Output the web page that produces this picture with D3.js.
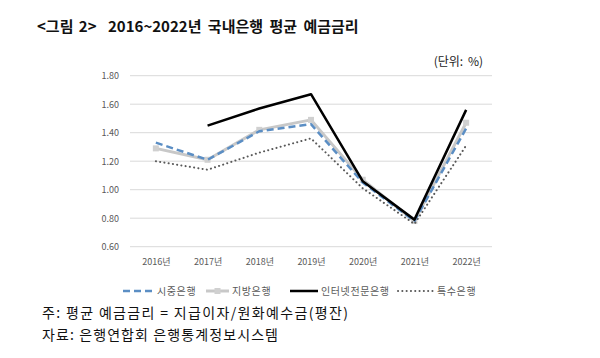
<!DOCTYPE html>
<html><head><meta charset="utf-8">
<script src="https://cdn.jsdelivr.net/npm/d3@7"></script>
<style>body{margin:0;background:#fff}svg{display:block}</style>
</head><body>
<svg id="c" width="600" height="358"></svg>
<script>
const years = ["2016년","2017년","2018년","2019년","2020년","2021년","2022년"];
const yTicks = [0.6,0.8,1.0,1.2,1.4,1.6,1.8];
const sijung = [1.33,1.21,1.41,1.46,1.05,0.78,1.43];
const jibang = [1.29,1.21,1.42,1.49,1.07,0.78,1.47];
const internet = [null,1.45,1.57,1.67,1.06,0.79,1.56];
const teuksu = [1.20,1.14,1.26,1.36,1.01,0.76,1.31];
const seriesNames = ["시중은행","지방은행","인터넷전문은행","특수은행"];

const svg = d3.select("#c");
const x = d3.scalePoint().domain(years).range([130,492]).padding(0.5);
const y = d3.scaleLinear().domain([0.6,1.8]).range([246.7,75.7]);
const font = "'Noto Sans CJK KR','Noto Sans',sans-serif";

const t = svg.append("text").attr("y",32).attr("font-family",font).attr("font-weight","bold")
  .attr("font-size",15).attr("fill","#111");
t.append("tspan").attr("x",37).attr("word-spacing",2).text("<그림 2>");
t.append("tspan").attr("x",108).attr("word-spacing",3).text("2016~2022년 국내은행 평균 예금금리");
svg.append("text").attr("x",483).attr("y",66).attr("text-anchor","end").attr("font-family",font)
  .attr("font-size",12).attr("fill","#222").attr("word-spacing",2).text("(단위: %)");

// grid
svg.append("g").selectAll("line").data(yTicks).join("line")
  .attr("x1",130).attr("x2",492).attr("y1",d=>y(d)).attr("y2",d=>y(d))
  .attr("stroke","#d9d9d9").attr("stroke-width",1);

const ya = d3.axisLeft(y).tickValues(yTicks).tickFormat(d3.format(".2f")).tickSize(0).tickPadding(11);
const gy = svg.append("g").attr("transform","translate(130,0)").call(ya);
gy.select(".domain").remove();
gy.selectAll("text").attr("font-family",font).attr("font-size",9).attr("fill","#595959");

const xa = d3.axisBottom(x).tickSize(0).tickPadding(12);
const gx = svg.append("g").attr("transform","translate(0,246.7)").call(xa);
gx.select(".domain").remove();
gx.selectAll("text").attr("font-family",font).attr("font-size",9).attr("fill","#595959");

const line = d3.line().defined(d=>d!=null).x((d,i)=>x(years[i])).y(d=>y(d));
const styles = [
  {data:sijung, stroke:"#5b8ec4", w:2.5, dash:"7,4", cap:"butt"},
  {data:jibang, stroke:"#c8c8c8", w:3, dash:null, cap:"butt"},
  {data:internet, stroke:"#000", w:2.5, dash:null, cap:"butt"},
  {data:teuksu, stroke:"#595959", w:2, dash:"0.1,4.2", cap:"round"}
];
const order = [1,0,3,2];
order.forEach(k=>{
  const s = styles[k];
  svg.append("path").attr("d",line(s.data)).attr("fill","none").attr("stroke",s.stroke)
    .attr("stroke-width",s.w).attr("stroke-dasharray",s.dash).attr("stroke-linecap",s.cap)
    .attr("stroke-linejoin","round");
  if(k===1){
    svg.append("g").selectAll("rect").data(s.data).join("rect")
      .attr("x",(d,i)=>x(years[i])-3).attr("y",d=>y(d)-3).attr("width",6).attr("height",6)
      .attr("fill","#d0d0d0");
  }
});

// legend
const leg = [
  {x1:123,x2:153,tx:157},
  {x1:206,x2:229,tx:232},
  {x1:290,x2:318,tx:321},
  {x1:398,x2:433,tx:437}
];
const ly = 291;
leg.forEach((l,k)=>{
  const s = styles[k];
  svg.append("line").attr("x1",l.x1).attr("x2",l.x2).attr("y1",ly).attr("y2",ly)
    .attr("stroke",s.stroke).attr("stroke-width",s.w).attr("stroke-dasharray",s.dash).attr("stroke-linecap",s.cap);
  if(k===1) svg.append("rect").attr("x",(l.x1+l.x2)/2-3).attr("y",ly-3).attr("width",6).attr("height",6).attr("fill","#d0d0d0");
  svg.append("text").attr("x",l.tx).attr("y",ly+3.5).attr("font-family",font).attr("font-size",10)
    .attr("letter-spacing",0.6).attr("fill","#595959").text(seriesNames[k]);
});

svg.append("text").attr("x",42).attr("y",318).attr("font-family",font).attr("font-size",14)
  .attr("fill","#111").attr("textLength",306).attr("lengthAdjust","spacing")
  .text("주: 평균 예금금리 = 지급이자/원화예수금(평잔)");
svg.append("text").attr("x",42).attr("y",340).attr("font-family",font).attr("font-size",14)
  .attr("fill","#111").attr("textLength",236).attr("lengthAdjust","spacing")
  .text("자료: 은행연합회 은행통계정보시스템");
</script>
</body></html>
